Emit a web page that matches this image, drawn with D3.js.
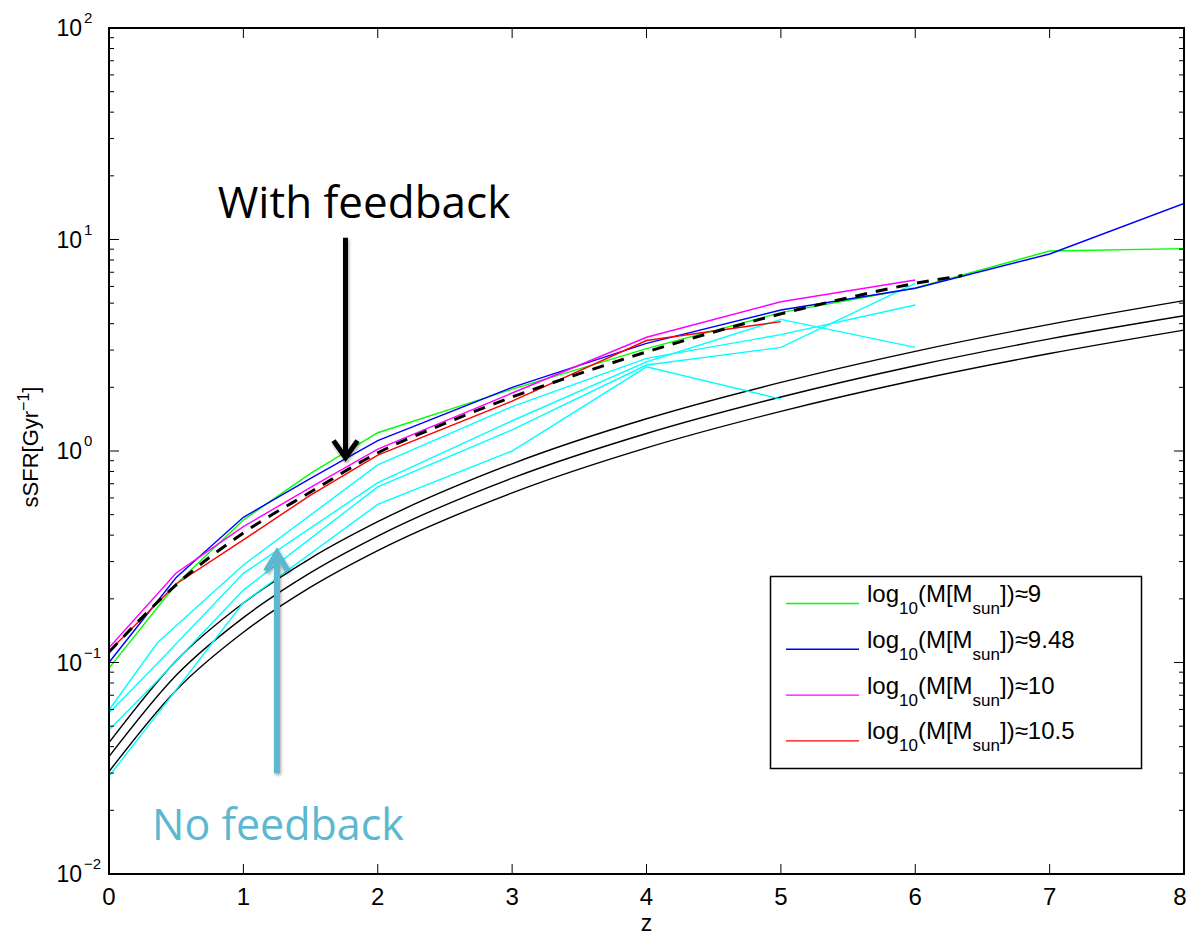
<!DOCTYPE html>
<html>
<head>
<meta charset="utf-8">
<script src="https://cdn.jsdelivr.net/npm/d3@7"></script>
<style>
body { margin: 0; background: #fff; }
svg { display: block; }
</style>
</head>
<body>
<div id="chart"></div>
<script>
// ---------------------------------------------------------------
// Data
// redshift grid of the simulated (feedback) runs
var zFb = [0, 0.5, 1, 1.5, 2, 3, 4, 5, 6, 7, 8];
var sfrM9    = [0.094, 0.235, 0.472, 0.784, 1.22, 1.96, 3.05, 4.51, 5.9, 8.82, 9.05];
var sfrM948  = [0.100, 0.252, 0.486, 0.743, 1.12, 2.00, 3.23, 4.64, 5.88, 8.54, 14.8];
var sfrM10   = [0.1175, 0.265, 0.439, 0.673, 1.02, 1.88, 3.45, 5.08, 6.43];
var sfrM105  = [0.113, 0.235, 0.38, 0.619, 0.957, 1.72, 3.33, 4.09];

// dashed black fit
var zDash   = [0, 0.5, 1, 1.5, 2, 2.5, 3, 3.5, 4, 4.5, 5, 5.5, 6, 6.35];
var sfrDash = [0.112, 0.233, 0.41, 0.64, 0.98, 1.35, 1.80, 2.32, 2.94, 3.65, 4.45, 5.3, 6.2, 6.75];

// no feedback runs (cyan)
var zNf = [0, 0.36, 1, 2, 3, 4, 5, 6];
var sfrNf1 = [0.0596, 0.124, 0.289, 0.859, 1.62, 2.74, 3.55, 4.90];
var sfrNf2 = [0.0577, 0.099, 0.264, 0.708, 1.39, 2.64, 4.19, 3.09];
var sfrNf3 = [0.048, 0.082, 0.22, 0.677, 1.26, 2.55, 3.09, 6.2];
var sfrNf4 = [0.029, 0.057, 0.192, 0.559, 1.0, 2.50, 1.76];

// solid black curves
var zBk = [0, 0.5, 1, 1.5, 2, 3, 4, 5, 6, 7, 8];
var sfrBk1 = [0.0418, 0.102, 0.191, 0.311, 0.463, 0.87, 1.42, 2.11, 2.96, 3.97, 5.14];
var sfrBk2 = [0.0359, 0.087, 0.163, 0.266, 0.396, 0.744, 1.21, 1.80, 2.53, 3.39, 4.36];
var sfrBk3 = [0.0305, 0.074, 0.139, 0.227, 0.338, 0.634, 1.035, 1.54, 2.16, 2.89, 3.73];

var legendMass = ["9", "9.48", "10", "10.5"];
var xTicks = [0, 1, 2, 3, 4, 5, 6, 7, 8];
var yDecades = [-2, -1, 0, 1, 2];

// ---------------------------------------------------------------
var width = 1188, height = 936;
var plotL = 109, plotR = 1184, plotT = 28, plotB = 874;
var sans = "'Liberation Sans', Arial, Helvetica, sans-serif";

var svg = d3.select("#chart").append("svg")
    .attr("width", width)
    .attr("height", height)
    .style("font-family", sans);

var x = d3.scaleLinear().domain([0, 8]).range([plotL, plotR]);
var y = d3.scaleLog().domain([0.01, 100]).range([plotB, plotT]);

var defs = svg.append("defs");
defs.append("clipPath").attr("id", "plotclip")
  .append("rect")
    .attr("x", plotL).attr("y", plotT)
    .attr("width", plotR - plotL).attr("height", plotB - plotT);
var shadow = defs.append("filter").attr("id", "shadow")
    .attr("x", "-50%").attr("y", "-10%").attr("width", "200%").attr("height", "120%");
shadow.append("feDropShadow")
    .attr("dx", 1).attr("dy", 2).attr("stdDeviation", 1.5)
    .attr("flood-color", "#000").attr("flood-opacity", 0.35);

function pairs(zs, vs) { return vs.map(function(v, i) { return [zs[i], v]; }); }

var line = d3.line().x(function(d) { return x(d[0]); }).y(function(d) { return y(d[1]); });
var smooth = d3.line().x(function(d) { return x(d[0]); }).y(function(d) { return y(d[1]); })
    .curve(d3.curveMonotoneX);

var plot = svg.append("g").attr("clip-path", "url(#plotclip)");

// black theory curves
[sfrBk1, sfrBk2, sfrBk3].forEach(function(s) {
  plot.append("path").datum(pairs(zBk, s))
    .attr("d", smooth).attr("fill", "none")
    .attr("stroke", "#000").attr("stroke-width", 1.4);
});

// cyan no-feedback runs
[sfrNf1, sfrNf2, sfrNf3, sfrNf4].forEach(function(s) {
  plot.append("path").datum(pairs(zNf, s))
    .attr("d", line).attr("fill", "none")
    .attr("stroke", "#00ffff").attr("stroke-width", 1.4);
});

// feedback runs
var fbSeries = [
  {vals: sfrM9,   col: "#00ff00"},
  {vals: sfrM948, col: "#0000ff"},
  {vals: sfrM10,  col: "#ff00ff"},
  {vals: sfrM105, col: "#ff0000"}
];
fbSeries.forEach(function(s) {
  plot.append("path").datum(pairs(zFb, s.vals))
    .attr("d", line).attr("fill", "none")
    .attr("stroke", s.col).attr("stroke-width", 1.4);
});

// dashed fit
plot.append("path").datum(pairs(zDash, sfrDash))
  .attr("d", smooth).attr("fill", "none")
  .attr("stroke", "#000").attr("stroke-width", 3)
  .attr("stroke-dasharray", "12,9");

// ---------------------------------------------------------------
// axes box + ticks (inward on all four sides)
var axes = svg.append("g");
axes.append("rect")
  .attr("x", plotL).attr("y", plotT)
  .attr("width", plotR - plotL).attr("height", plotB - plotT)
  .attr("fill", "none").attr("stroke", "#000").attr("stroke-width", 2);

xTicks.forEach(function(t) {
  axes.append("line").attr("x1", x(t)).attr("x2", x(t))
    .attr("y1", plotB).attr("y2", plotB - 10).attr("stroke", "#000");
  axes.append("line").attr("x1", x(t)).attr("x2", x(t))
    .attr("y1", plotT).attr("y2", plotT + 10).attr("stroke", "#000");
  axes.append("text").attr("x", Math.min(x(t), 1180)).attr("y", 905)
    .attr("text-anchor", "middle").attr("font-size", 24)
    .text(t);
});

y.ticks().forEach(function(t) {
  var major = Math.abs(Math.log10(t) - Math.round(Math.log10(t))) < 1e-9;
  var len = major ? 10 : 5;
  axes.append("line").attr("x1", plotL).attr("x2", plotL + len)
    .attr("y1", y(t)).attr("y2", y(t)).attr("stroke", "#000");
  axes.append("line").attr("x1", plotR).attr("x2", plotR - len)
    .attr("y1", y(t)).attr("y2", y(t)).attr("stroke", "#000");
});

yDecades.forEach(function(k) {
  var yy = y(Math.pow(10, k));
  axes.append("text").attr("x", 82).attr("y", Math.max(yy + 8, 27))
    .attr("text-anchor", "end").attr("font-size", 23).text("10");
  axes.append("text").attr("x", 84).attr("y", Math.max(yy - 5, 14))
    .attr("font-size", 15).text(k < 0 ? "\u2212" + (-k) : k);
});

svg.append("text").attr("x", x(4)).attr("y", 931)
  .attr("text-anchor", "middle").attr("font-size", 23).text("z");

var ylab = svg.append("text")
  .attr("transform", "translate(38," + 447 + ") rotate(-90)")
  .attr("text-anchor", "middle").attr("font-size", 22);
ylab.append("tspan").text("sSFR[Gyr");
ylab.append("tspan").attr("dy", -9).attr("font-size", 16).text("\u22121");
ylab.append("tspan").attr("dy", 9).text("]");

// ---------------------------------------------------------------
// legend
var lg = svg.append("g");
lg.append("rect").attr("x", 770.5).attr("y", 576.5)
  .attr("width", 371).attr("height", 192)
  .attr("fill", "#fff").attr("stroke", "#000").attr("stroke-width", 1.5);

legendMass.forEach(function(m, i) {
  var ry = 603.5 + i * 45.8;
  lg.append("line").attr("x1", 786).attr("x2", 859)
    .attr("y1", ry).attr("y2", ry)
    .attr("stroke", fbSeries[i].col).attr("stroke-width", 1.4);
  var t = lg.append("text").attr("x", 867).attr("y", ry - 1.5).attr("font-size", 24);
  t.append("tspan").text("log");
  t.append("tspan").attr("dy", 12).attr("font-size", 17).text("10");
  t.append("tspan").attr("dy", -12).text("(M[M");
  t.append("tspan").attr("dy", 12).attr("font-size", 17).text("sun");
  t.append("tspan").attr("dy", -12).text("])\u2248" + m);
});

// ---------------------------------------------------------------
// annotations
var ann = svg.append("g");
var annFont = "'Open Sans', Lato, sans-serif";

var blackArrow = {z: 1.76, from: 10.2, to: 0.9};
var bx = x(blackArrow.z), by0 = y(blackArrow.from), by1 = y(blackArrow.to);
var ba = ann.append("g").attr("filter", "url(#shadow)")
  .attr("fill", "none").attr("stroke", "#000").attr("stroke-width", 5);
ba.append("path").attr("d", "M" + bx + "," + by0 + "V" + (by1 - 3));
ba.append("polyline")
  .attr("points", [[bx - 12, by1 - 20], [bx, by1 - 3], [bx + 12, by1 - 20]].join(" "));
ann.append("text").attr("x", 364).attr("y", 218)
  .attr("text-anchor", "middle").style("font-family", annFont)
  .attr("font-size", 44).text("With feedback");

var cyanArrow = {z: 1.25, from: 0.030, to: 0.34};
var cx = x(cyanArrow.z), cy0 = y(cyanArrow.from), cy1 = y(cyanArrow.to);
var nfCol = "#5bb8cf";
var ca = ann.append("g").attr("filter", "url(#shadow)")
  .attr("fill", "none").attr("stroke", nfCol).attr("stroke-width", 6);
ca.append("path").attr("d", "M" + cx + "," + cy0 + "V" + (cy1 + 3));
ca.append("polyline")
  .attr("points", [[cx - 11, cy1 + 21], [cx, cy1 + 3], [cx + 11, cy1 + 21]].join(" "));
ann.append("text").attr("x", 152).attr("y", 840)
  .style("font-family", annFont)
  .attr("font-size", 43).style("fill", nfCol).text("No feedback");
</script>
</body>
</html>
